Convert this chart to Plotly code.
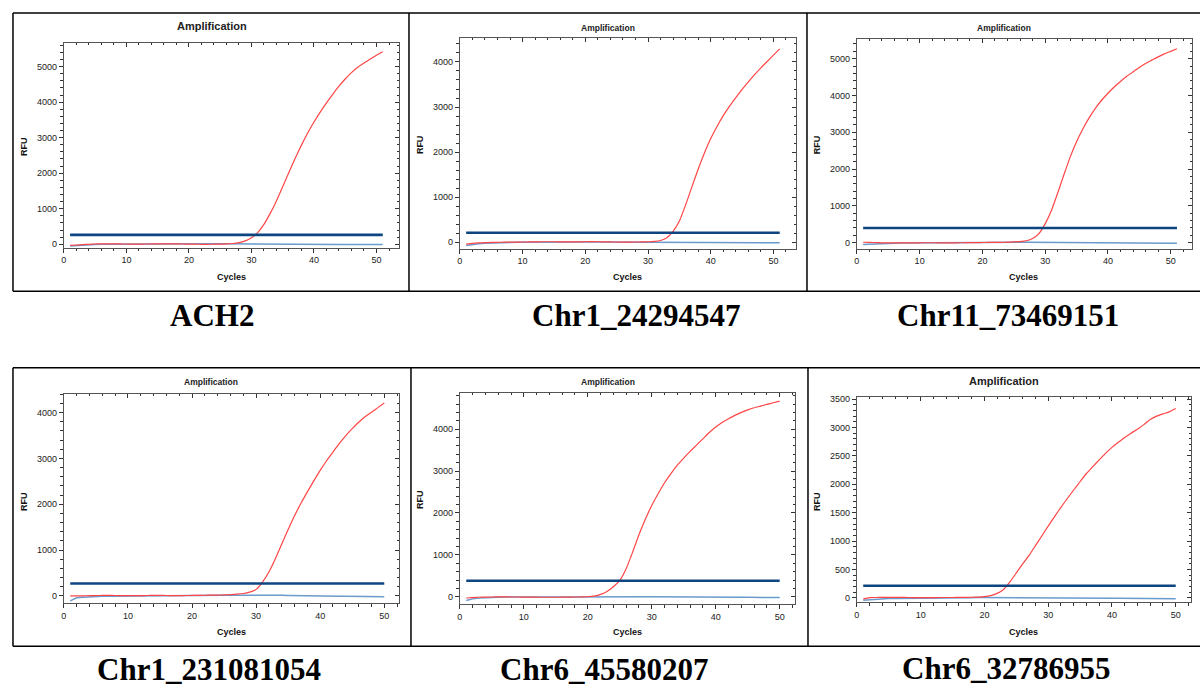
import plotly.graph_objects as go

# ---------------- data ----------------
cycles_51 = list(range(1, 52))
cycles_50 = list(range(1, 51))

panel_names = ["ACH2", "Chr1_24294547", "Chr11_73469151",
               "Chr1_231081054", "Chr6_45580207", "Chr6_32786955"]

ach2_red = [-30, -20, -10, 0, 8, 12, 14, 12, 10, 8, 6, 6, 8, 10, 12, 14, 14, 12, 8, 4,
            2, 0, 0, 2, 5, 10, 22, 45, 95, 185, 330, 560, 870, 1220, 1620, 2030, 2420,
            2790, 3130, 3440, 3720, 3980, 4220, 4450, 4650, 4830, 4980, 5100, 5210, 5320, 5420]
ach2_base = [-45, -30, -18, -10, -5, -2, 0, 2, 3, 4, 5, 5, 6, 6, 6, 5, 5, 5, 6, 8,
             10, 12, 14, 14, 12, 10, 8, 6, 5, 5, 5, 5, 4, 2, 0, -2, -4, -5, -5, -6,
             -6, -6, -5, -5, -4, -4, -5, -6, -6, -5, -5]

chr1a_red = [-40, -25, -15, -8, -4, 0, 2, 4, 5, 6, 8, 10, 12, 12, 12, 10, 8, 8, 10, 12,
             14, 12, 10, 8, 6, 5, 5, 6, 8, 12, 20, 40, 100, 240, 470, 830, 1230, 1620,
             1980, 2300, 2570, 2810, 3020, 3210, 3390, 3560, 3720, 3870, 4010, 4150, 4290]
chr1a_base = [-70, -45, -30, -20, -12, -8, -5, -2, 0, 2, 3, 4, 5, 5, 5, 5, 4, 4, 5, 6,
              6, 6, 5, 4, 3, 2, 0, -2, -3, -4, -4, -3, -2, 0, 2, 2, 0, -2, -5, -8,
              -10, -10, -10, -8, -8, -8, -8, -10, -12, -12, -12]

chr11_red = [10, 5, 0, -5, -8, -10, -10, -8, -6, -5, -4, -4, -5, -6, -6, -5, -4, -2, 0, 2,
             4, 6, 8, 12, 18, 28, 50, 110, 245, 510, 870, 1350, 1850, 2330, 2740, 3090,
             3390, 3650, 3870, 4060, 4230, 4380, 4520, 4640, 4760, 4870, 4960, 5050, 5130,
             5200, 5270]
chr11_base = [-50, -40, -32, -25, -20, -16, -12, -10, -8, -6, -5, -4, -3, -2, 0, 2, 4, 6, 8, 10,
              12, 14, 15, 15, 14, 12, 10, 8, 6, 4, 2, 0, -2, -4, -6, -8, -10, -10, -10, -10,
              -10, -12, -14, -16, -16, -16, -16, -16, -16, -16, -16]

chr1b_red = [0, 0, 0, 2, 5, 8, 8, 6, 4, 2, 2, 4, 6, 8, 8, 6, 4, 4, 6, 8,
             10, 12, 14, 16, 20, 26, 35, 50, 80, 140, 300, 520, 810, 1130, 1450, 1750,
             2020, 2270, 2510, 2740, 2950, 3140, 3330, 3500, 3650, 3790, 3910, 4010, 4110, 4210]
chr1b_base = [-110, -45, -30, -20, -15, -10, -8, -6, -4, -2, 0, 0, 2, 2, 2, 2, 2, 2, 4, 4,
              6, 8, 10, 12, 12, 12, 14, 16, 18, 20, 22, 20, 16, 12, 8, 4, 2, 0, -2, -4,
              -6, -6, -8, -10, -12, -14, -16, -18, -20, -22]

chr6a_red = [-30, -20, -12, -8, -5, -4, -4, -5, -6, -8, -10, -10, -12, -12, -12, -10, -8, -6, -4, 0,
             16, 56, 128, 240, 390, 670, 1060, 1480, 1850, 2180, 2460, 2720, 2940, 3140, 3310,
             3470, 3620, 3770, 3920, 4050, 4160, 4250, 4330, 4400, 4460, 4510, 4550, 4590, 4630, 4670]
chr6a_base = [-90, -50, -30, -20, -14, -10, -8, -6, -6, -6, -6, -8, -8, -8, -8, -8, -6, -4, -2, 0,
              2, 4, 6, 8, 8, 8, 6, 4, 2, 0, -2, -4, -6, -8, -8, -8, -6, -6, -6, -8,
              -10, -12, -14, -14, -14, -14, -14, -16, -18, -20]

chr6b_red = [-20, 5, 8, 10, 10, 10, 10, 8, 6, 6, 6, 6, 8, 8, 8, 10, 10, 12, 16, 23,
             40, 81, 150, 283, 440, 600, 750, 920, 1090, 1265, 1430, 1595, 1750, 1900, 2045,
             2190, 2310, 2430, 2545, 2650, 2740, 2825, 2900, 2970, 3050, 3140, 3200, 3240, 3275, 3335]
chr6b_base = [-40, -30, -22, -16, -12, -8, -6, -4, -2, 0, 0, 2, 2, 2, 4, 4, 4, 4, 6, 6,
              8, 8, 8, 8, 6, 6, 6, 4, 4, 4, 2, 2, 2, 0, 0, 0, -2, -2, -4, -4,
              -6, -6, -8, -8, -10, -10, -12, -14, -14, -16]

thresholds = [265, 213, 395, 269, 383, 214]

series = [
    (cycles_51, ach2_red, ach2_base),
    (cycles_51, chr1a_red, chr1a_base),
    (cycles_51, chr11_red, chr11_base),
    (cycles_50, chr1b_red, chr1b_base),
    (cycles_50, chr6a_red, chr6a_base),
    (cycles_50, chr6b_red, chr6b_base),
]

# ---------------- layout geometry (pixels) ----------------
W, H = 1200, 688


def px(x):
    return x / W


def py(y):
    return 1 - y / H


boxes = [(61, 397, 41, 247), (458, 795, 36, 248), (856, 1192, 37, 248),
         (61, 397, 394, 605), (458, 794, 393, 606), (856, 1191, 397, 604)]
xranges = [[0, 53.6], [0, 53.6], [0, 53.4], [0, 52.3], [0, 52.4], [0, 52.4]]
yranges = [[-92, 5670], [-139, 4536], [-162, 5541], [-168, 4414], [-184, 4870], [-80, 3542]]
ydticks = [1000, 1000, 1000, 1000, 1000, 500]
yminor = [200, 200, 200, 200, 200, 100]

title_pos = [(210, 24, 11), (607, 26, 8.5), (1004, 26, 8.5),
             (209, 382, 8.5), (607, 382, 8.5), (1004, 381, 11)]
rfu_pos = [(21, 145), (418, 143), (816, 143), (21, 502), (418, 500), (816, 502)]
cyc_pos = [(229, 277), (626, 277), (1023, 277), (229, 634), (626, 634), (1023, 634)]
cap_pos = [(210, 315), (635, 315), (1008, 315), (207, 671), (603, 671), (1006, 670)]

RED = "#ff4545"
THR = "#0c4580"
BASE = "#6a9bcd"
SANS = "Liberation Sans, Arial, sans-serif"
SERIF = "Liberation Serif, Times New Roman, serif"

fig = go.Figure()
layout = {}
annotations = []

for i in range(6):
    n = i + 1
    xa = "x" if n == 1 else f"x{n}"
    ya = "y" if n == 1 else f"y{n}"
    xo, yo = f"x{n + 6}", f"y{n + 6}"
    cyc, red, base = series[i]
    thr = thresholds[i]

    fig.add_trace(go.Scatter(x=cyc, y=base, mode="lines", line=dict(color=BASE, width=1.5),
                             xaxis=xa, yaxis=ya, showlegend=False, hoverinfo="skip"))
    fig.add_trace(go.Scatter(x=cyc, y=red, mode="lines",
                             line=dict(color=RED, width=1.2, shape="spline", smoothing=0.5),
                             xaxis=xa, yaxis=ya, showlegend=False, hoverinfo="skip"))
    fig.add_trace(go.Scatter(x=[cyc[0], cyc[-1]], y=[thr, thr], mode="lines",
                             line=dict(color=THR, width=2.6),
                             xaxis=xa, yaxis=ya, showlegend=False, hoverinfo="skip"))
    # dummy trace for the mirrored (inside-tick) top/right axes
    fig.add_trace(go.Scatter(x=[None], y=[None], mode="lines", xaxis=xo, yaxis=yo,
                             showlegend=False, hoverinfo="skip"))

    x0, x1, yt, yb = boxes[i]
    tickfont = dict(family=SANS, size=9, color="#222")
    common = dict(showgrid=False, zeroline=False, tickwidth=1, tickcolor="#333",
                  fixedrange=True)
    layout["xaxis" if n == 1 else f"xaxis{n}"] = dict(
        domain=[px(x0), px(x1)], range=xranges[i], anchor=ya, tick0=0, dtick=10,
        ticks="outside", ticklen=4, tickfont=tickfont,
        showline=True, linecolor="#555", linewidth=1, mirror=True,
        minor=dict(tick0=0, dtick=2, ticks="outside", ticklen=2.5, tickcolor="#333"),
        **common)
    layout["yaxis" if n == 1 else f"yaxis{n}"] = dict(
        domain=[py(yb), py(yt)], range=yranges[i], anchor=xa, tick0=0, dtick=ydticks[i],
        ticks="outside", ticklen=4, tickfont=tickfont,
        showline=True, linecolor="#555", linewidth=1, mirror=True,
        minor=dict(tick0=0, dtick=yminor[i], ticks="outside", ticklen=2.5, tickcolor="#333"),
        **common)
    layout[f"xaxis{n + 6}"] = dict(
        overlaying=xa, side="top", anchor=yo, range=xranges[i], tick0=0, dtick=10,
        ticks="inside", ticklen=4, showticklabels=False, showline=False,
        minor=dict(tick0=0, dtick=2, ticks="inside", ticklen=2.5, tickcolor="#333"),
        **common)
    layout[f"yaxis{n + 6}"] = dict(
        overlaying=ya, side="right", anchor=xo, range=yranges[i], tick0=0, dtick=ydticks[i],
        ticks="inside", ticklen=4, showticklabels=False, showline=False,
        minor=dict(tick0=0, dtick=yminor[i], ticks="inside", ticklen=2.5, tickcolor="#333"),
        **common)

    tx, ty, ts = title_pos[i]
    annotations.append(dict(text="<b>Amplification</b>", x=px(tx), y=py(ty), xref="paper",
                            yref="paper", showarrow=False, xanchor="center", yanchor="middle",
                            font=dict(family=SANS, size=ts, color="#222")))
    rx, ry = rfu_pos[i]
    annotations.append(dict(text="<b>RFU</b>", x=px(rx), y=py(ry), xref="paper", yref="paper",
                            showarrow=False, xanchor="center", yanchor="middle", textangle=-90,
                            font=dict(family=SANS, size=9, color="#111")))
    cx, cy = cyc_pos[i]
    annotations.append(dict(text="<b>Cycles</b>", x=px(cx), y=py(cy), xref="paper", yref="paper",
                            showarrow=False, xanchor="center", yanchor="middle",
                            font=dict(family=SANS, size=9, color="#111")))
    kx, ky = cap_pos[i]
    annotations.append(dict(text=f"<b>{panel_names[i]}</b>", x=px(kx), y=py(ky), xref="paper",
                            yref="paper", showarrow=False, xanchor="center", yanchor="middle",
                            font=dict(family=SERIF, size=31, color="#000")))

frame_lines = [(10, 11, 1200, 11), (10, 291, 1200, 291), (10, 11, 10, 291),
               (407, 11, 407, 291), (806, 11, 806, 291),
               (10, 368, 1200, 368), (10, 648, 1200, 648), (10, 368, 10, 648),
               (409, 368, 409, 648), (807, 368, 807, 648)]
shapes = [dict(type="line", xref="paper", yref="paper", x0=px(a), y0=py(b), x1=px(c), y1=py(d),
               line=dict(color="#000", width=1.5)) for a, b, c, d in frame_lines]

fig.update_layout(width=W, height=H, margin=dict(l=0, r=0, t=0, b=0),
                  paper_bgcolor="white", plot_bgcolor="white",
                  annotations=annotations, shapes=shapes, showlegend=False, **layout)

fig.write_html(
    "out.html",
    config={"staticPlot": True},
    post_script="document.body.style.margin='0';document.body.style.overflow='hidden';",
)
